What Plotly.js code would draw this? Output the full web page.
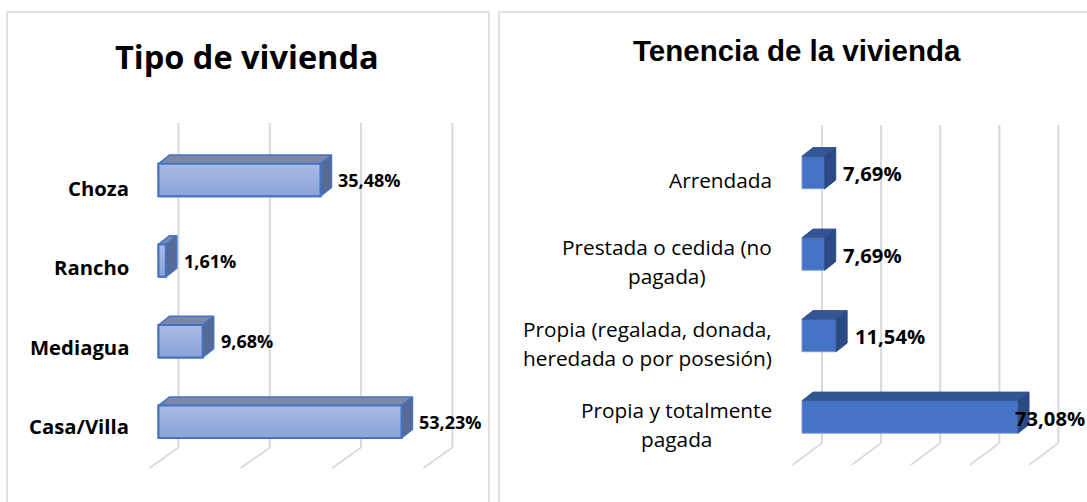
<!DOCTYPE html>
<html><head><meta charset="utf-8">
<script src="https://cdn.plot.ly/plotly-3.0.1.min.js"></script>
<style>html,body{margin:0;padding:0;background:#fff;overflow:hidden}</style>
</head><body><div id="chart" style="width:1087px;height:502px"></div>
<script>
const W = 1087, H = 502;
// Data, listed bottom-to-top as drawn
const tipoCategorias = ["Casa/Villa", "Mediagua", "Rancho", "Choza"];
const tipoValores = [53.23, 9.68, 1.61, 35.48];
const tipoTextos = ["53,23%", "9,68%", "1,61%", "35,48%"];
const tipoTicks = [0, 20, 40, 60];
const tenenciaCategorias = ["Propia y totalmente<br>pagada", "Propia (regalada, donada,<br>heredada o por posesión)", "Prestada o cedida (no<br>pagada)", "Arrendada"];
const tenenciaValores = [73.08, 11.54, 7.69, 7.69];
const tenenciaTextos = ["73,08%", "11,54%", "7,69%", "7,69%"];
const tenenciaTicks = [0, 20, 40, 60, 80];

const OS = "'Open Sans', sans-serif";
const panels = [
 {id:"", cats:tipoCategorias, vals:tipoValores, txt:tipoTextos, ticks:tipoTicks,
  px0:158.5, pxu:4.565, py0:421.8, pyu:80.6, dom:[0,490],
  top:"#7d88a8", side:"#566a96", edge:"#4472c4", edgeW:2, base:"#98ade0",
  grad:[[0,"#8aa3d9"],[1,"#aabbe3"]],
  gridTop:123, gridBot:447.5, floorDx:-29, floorDy:20.5, backDx:20,
  labelRight:129, labelPy0:426, labelPyu:79.4, labelW:"bold", labelSize:20.3, lineGap:29,
  valGap:5, valPy0:421.8, valPyu:80.6, valSize:18},
 {id:"2", cats:tenenciaCategorias, vals:tenenciaValores, txt:tenenciaTextos, ticks:tenenciaTicks,
  px0:802, pxu:2.956, py0:417, pyu:81.5, dom:[490,1087],
  top:"#335593", side:"#2b4a85", edge:"#7a9ad6", edgeW:1, base:"#4472c4", grad:null,
  gridTop:125, gridBot:443, floorDx:-29.5, floorDy:22, backDx:20,
  labelRight:772, labelPy0:424.5, labelPyu:81.5, labelW:"normal", labelSize:20.8, lineGap:29,
  valGap:5.5, valPy0:418, valPyu:81.7, valSize:20.2}
];
const dxPx = 11, dyPx = 8.7, halfPx = 16.2;
const traces = [], shapes = [], annotations = [];
const layout = {width:W, height:H, margin:{l:0,r:0,t:0,b:0}, paper_bgcolor:"#fff", plot_bgcolor:"rgba(0,0,0,0)",
  showlegend:false, hovermode:false, barmode:"overlay", shapes, annotations};
const ctx = document.createElement("canvas").getContext("2d");

panels.forEach(p => {
  const xa = "x"+p.id, ya = "y"+p.id;
  const xKey = "xaxis"+p.id, yKey = "yaxis"+p.id;
  const pxToX = px => (px - p.px0) / p.pxu;
  const pyToY = py => (p.py0 - py) / p.pyu;
  layout[xKey] = {domain:[p.dom[0]/W, p.dom[1]/W], range:[pxToX(p.dom[0]), pxToX(p.dom[1])], visible:false, fixedrange:true, anchor:ya};
  layout[yKey] = {domain:[0,1], range:[pyToY(H), pyToY(0)], visible:false, fixedrange:true, anchor:xa};
  const idx = p.vals.map((_, i) => i);
  const h = halfPx / p.pyu, dx = dxPx / p.pxu, dy = dyPx / p.pyu;

  // back wall grid and floor lines
  p.ticks.forEach(t => {
    const gx = t + p.backDx / p.pxu;
    shapes.push({type:"line", layer:"below", xref:xa, yref:ya, x0:gx, x1:gx, y0:pyToY(p.gridTop), y1:pyToY(p.gridBot), line:{color:"#d9d9d9", width:2}});
    shapes.push({type:"line", layer:"below", xref:xa, yref:ya, x0:gx, x1:gx + p.floorDx / p.pxu, y0:pyToY(p.gridBot), y1:pyToY(p.gridBot + p.floorDy), line:{color:"#d9d9d9", width:1.6}});
  });

  // front faces
  traces.push({type:"bar", orientation:"h", xaxis:xa, yaxis:ya, y:idx, x:p.vals, width:2*h,
    marker:{color:p.base, line:{color:p.edge, width:p.edgeW}}, hoverinfo:"skip"});

  // depth faces
  p.vals.forEach((v, i) => {
    const faces = [
      {x:[0, dx, v+dx, v, 0], y:[i+h, i+h+dy, i+h+dy, i+h, i+h], c:p.top},
      {x:[v, v+dx, v+dx, v, v], y:[i+h, i+h+dy, i-h+dy, i-h, i+h], c:p.side}
    ];
    faces.forEach(f => traces.push({type:"scatter", mode:"lines", xaxis:xa, yaxis:ya, x:f.x, y:f.y, fill:"toself",
      fillcolor:f.c, line:{color:p.grad ? p.edge : f.c, width:p.grad ? 1.5 : 1}, hoverinfo:"skip", cliponaxis:false}));
    if (p.grad) {
      traces.push({type:"scatter", mode:"lines", xaxis:xa, yaxis:ya, x:[0,v,v,0,0], y:[i-h,i-h,i+h,i+h,i-h], fill:"toself",
        fillgradient:{type:"vertical", colorscale:p.grad}, line:{color:p.edge, width:p.edgeW}, hoverinfo:"skip"});
    }
  });

  // category labels: each line its own text so the line spacing can match
  p.cats.forEach((c, i) => {
    const lines = c.split("<br>");
    const weight = p.labelW === "bold" ? "bold " : "";
    ctx.font = weight + p.labelSize + "px 'Open Sans'";
    const w = Math.max(...lines.map(l => ctx.measureText(l).width));
    const cy = p.labelPy0 - i*p.labelPyu;
    lines.forEach((l, k) => {
      const py = cy + (k - (lines.length-1)/2) * p.lineGap;
      annotations.push({xref:xa, yref:ya, x:pxToX(p.labelRight - w/2), y:pyToY(py), xanchor:"center", yanchor:"middle", showarrow:false,
        text:weight ? "<b>"+l+"</b>" : l, font:{family:OS, size:p.labelSize, color:"#000"}});
    });
  });

  // value labels
  p.txt.forEach((t, i) => {
    const endPx = p.px0 + p.vals[i]*p.pxu + dxPx + p.valGap;
    const overflow = endPx + 70 > W;
    annotations.push({xref:xa, yref:ya, x: overflow ? pxToX(W) : pxToX(endPx), y:pyToY(p.valPy0 - i*p.valPyu), xanchor: overflow ? "right" : "left", yanchor:"middle", showarrow:false,
      text:"<b>"+t+"</b>", font:{family:OS, size:p.valSize, color:"#000"}});
  });
});

// titles
annotations.push({xref:"paper", yref:"paper", x:247/W, y:1-56/H, xanchor:"center", yanchor:"middle", showarrow:false,
  text:"<b>Tipo de vivienda</b>", font:{family:OS, size:32.5, color:"#000"}});
annotations.push({xref:"paper", yref:"paper", x:797/W, y:1-50/H, xanchor:"center", yanchor:"middle", showarrow:false,
  text:"<b>Tenencia de la vivienda</b>", font:{family:"'Liberation Sans', Arial, sans-serif", size:29.5, color:"#000"}});

// chart area frames
const frame = (x0,y0,x1,y1) => shapes.push({type:"line", layer:"below", xref:"paper", yref:"paper", x0:x0/W, x1:x1/W, y0:1-y0/H, y1:1-y1/H, line:{color:"#d9d9d9", width:1.5}});
frame(7,12,489,12); frame(7,12,7,H); frame(489,12,489,H);
frame(499,12,W,12); frame(499,12,499,H);

Plotly.newPlot("chart", traces, layout, {displayModeBar:false, staticPlot:true});
</script></body></html>
